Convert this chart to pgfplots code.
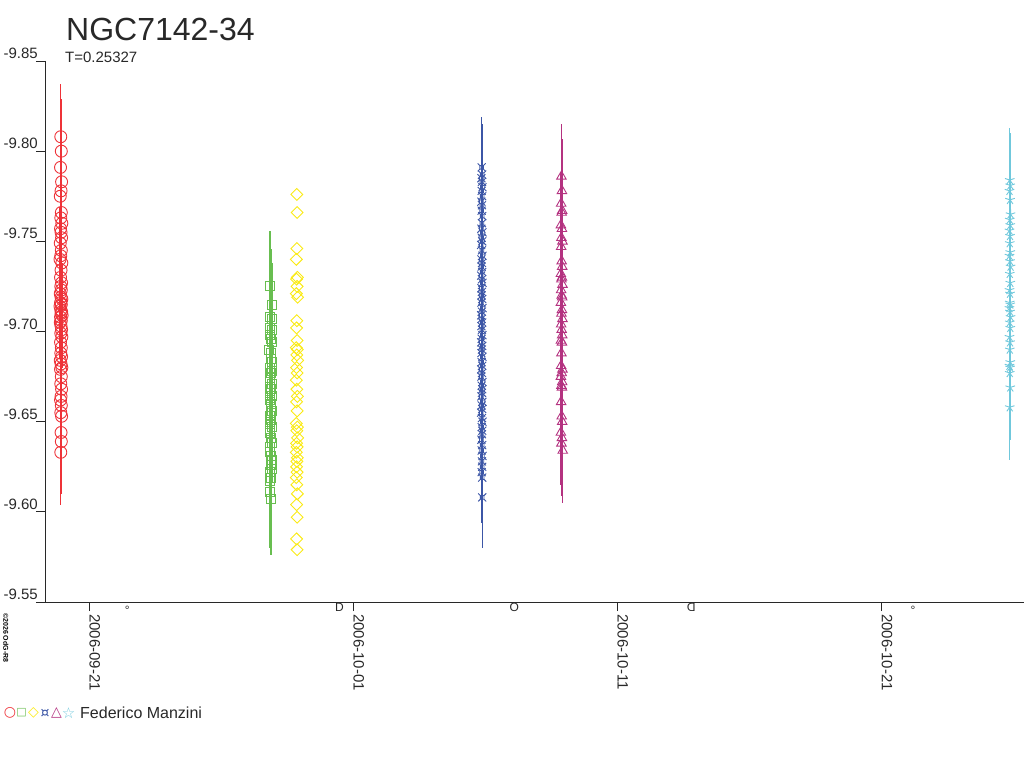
\documentclass[border=0pt]{standalone}
\usepackage{fontspec}
\setmainfont{Liberation Sans}
\newfontfamily\dejavu{DejaVu Sans}
\usepackage{graphicx}
\usepackage{pgfplots}
\pgfplotsset{compat=1.18}
\usetikzlibrary{plotmarks}
\definecolor{cred}{RGB}{238,50,56}
\definecolor{cgreen}{RGB}{104,190,80}
\definecolor{cyellow}{RGB}{250,234,20}
\definecolor{cblue}{RGB}{60,86,166}
\definecolor{cmag}{RGB}{180,50,128}
\definecolor{ccyan}{RGB}{112,200,220}
\definecolor{axgray}{RGB}{40,40,40}
\pgfdeclareplotmark{spokesq}{%
  \pgfpathrectangle{\pgfqpoint{-0.45\pgfplotmarksize}{-0.45\pgfplotmarksize}}{\pgfqpoint{0.9\pgfplotmarksize}{0.9\pgfplotmarksize}}%
  \pgfpathmoveto{\pgfqpoint{-\pgfplotmarksize}{-\pgfplotmarksize}}\pgfpathlineto{\pgfqpoint{-0.45\pgfplotmarksize}{-0.45\pgfplotmarksize}}%
  \pgfpathmoveto{\pgfqpoint{\pgfplotmarksize}{-\pgfplotmarksize}}\pgfpathlineto{\pgfqpoint{0.45\pgfplotmarksize}{-0.45\pgfplotmarksize}}%
  \pgfpathmoveto{\pgfqpoint{-\pgfplotmarksize}{\pgfplotmarksize}}\pgfpathlineto{\pgfqpoint{-0.45\pgfplotmarksize}{0.45\pgfplotmarksize}}%
  \pgfpathmoveto{\pgfqpoint{\pgfplotmarksize}{\pgfplotmarksize}}\pgfpathlineto{\pgfqpoint{0.45\pgfplotmarksize}{0.45\pgfplotmarksize}}%
  \pgfusepathqstroke}
\begin{document}
\begin{tikzpicture}
\path[use as bounding box] (0pt,0pt) rectangle (1024pt,768pt);
\begin{axis}[
  at={(45pt,166pt)}, anchor=south west,
  scale only axis, width=979pt, height=541pt,
  xmin=-1.678, xmax=35.40, ymin=-9.85, ymax=-9.55, y dir=reverse,
  axis lines=left, axis line style={-, draw=axgray, line width=0.9pt},
  tick align=outside, major tick length=9pt,
  tick style={draw=axgray, line width=0.9pt},
  xtick={0,10,20,30},
  xticklabels={2006-09-21,2006-10-01,2006-10-11,2006-10-21},
  ytick={-9.85,-9.80,-9.75,-9.70,-9.65,-9.60,-9.55},
  yticklabels={-9.85,-9.80,-9.75,-9.70,-9.65,-9.60,-9.55},
  ticklabel style={font=\fontsize{15}{18}\selectfont, text=axgray},
  yticklabel style={anchor=south east, inner sep=0pt, xshift=2pt, yshift=2pt},
  xticklabel style={rotate=-90, anchor=south west, inner sep=0pt, xshift=3pt},
  clip=false,
  every axis plot/.append style={only marks, mark options={line width=0.9pt}},
]
% red
\addplot[color=cred, mark=o, mark size=6,
  error bars/.cd, y dir=both, y fixed=0.029, error mark=none,
  error bar style={cred, line width=1.2pt}] table {
-1.08 -9.808
-1.06 -9.800
-1.09 -9.791
-1.05 -9.783
-1.07 -9.778
-1.10 -9.775
-1.06 -9.766
-1.08 -9.763
-1.04 -9.760
-1.09 -9.757
-1.07 -9.755
-1.05 -9.752
-1.10 -9.749
-1.06 -9.745
-1.08 -9.742
-1.11 -9.740
-1.04 -9.738
-1.07 -9.734
-1.09 -9.730
-1.05 -9.727
-1.08 -9.725
-1.06 -9.723
-1.10 -9.721
-1.07 -9.719
-1.04 -9.718
-1.09 -9.716
-1.06 -9.715
-1.11 -9.714
-1.08 -9.712
-1.05 -9.711
-1.07 -9.710
-1.03 -9.709
-1.09 -9.708
-1.06 -9.706
-1.10 -9.705
-1.07 -9.703
-1.05 -9.701
-1.08 -9.699
-1.04 -9.697
-1.09 -9.694
-1.06 -9.691
-1.08 -9.688
-1.05 -9.686
-1.10 -9.684
-1.07 -9.682
-1.04 -9.680
-1.09 -9.679
-1.06 -9.675
-1.08 -9.671
-1.05 -9.668
-1.07 -9.664
-1.09 -9.662
-1.06 -9.659
-1.08 -9.655
-1.05 -9.653
-1.07 -9.644
-1.06 -9.639
-1.08 -9.633
};
% green
\addplot[color=cgreen, mark=square, mark size=4.5,
  error bars/.cd, y dir=both, y fixed=0.031, error mark=none,
  error bar style={cgreen, line width=1.2pt}] table {
6.84 -9.725
6.91 -9.715
6.86 -9.708
6.93 -9.707
6.85 -9.702
6.90 -9.701
6.84 -9.698
6.87 -9.696
6.92 -9.694
6.82 -9.690
6.87 -9.688
6.88 -9.685
6.91 -9.683
6.83 -9.680
6.90 -9.678
6.89 -9.677
6.86 -9.674
6.93 -9.671
6.84 -9.669
6.88 -9.668
6.85 -9.666
6.90 -9.664
6.83 -9.662
6.87 -9.660
6.89 -9.658
6.92 -9.656
6.87 -9.655
6.84 -9.653
6.89 -9.651
6.86 -9.649
6.92 -9.647
6.86 -9.645
6.83 -9.644
6.88 -9.641
6.90 -9.638
6.86 -9.636
6.84 -9.633
6.88 -9.631
6.91 -9.629
6.87 -9.626
6.90 -9.624
6.83 -9.622
6.89 -9.619
6.86 -9.617
6.84 -9.611
6.88 -9.607
};
% yellow
\addplot[color=cyellow, mark=square, mark size=4.2, mark options={rotate=45, line width=0.9pt}] table {
7.86 -9.776
7.87 -9.766
7.86 -9.746
7.84 -9.740
7.88 -9.730
7.85 -9.729
7.87 -9.725
7.84 -9.721
7.89 -9.719
7.86 -9.706
7.85 -9.702
7.87 -9.695
7.84 -9.691
7.88 -9.690
7.86 -9.687
7.89 -9.684
7.85 -9.680
7.87 -9.677
7.84 -9.673
7.86 -9.668
7.88 -9.664
7.85 -9.661
7.87 -9.656
7.84 -9.649
7.88 -9.647
7.86 -9.645
7.89 -9.641
7.85 -9.638
7.87 -9.636
7.84 -9.633
7.88 -9.630
7.86 -9.628
7.85 -9.625
7.87 -9.622
7.84 -9.619
7.86 -9.615
7.88 -9.610
7.85 -9.604
7.87 -9.597
7.85 -9.585
7.87 -9.579
};
% blue
\addplot[color=cblue, mark=spokesq, mark size=4,
  error bars/.cd, y dir=both, y fixed=0.028, error mark=none,
  error bar style={cblue, line width=1.2pt}] table {
14.86 -9.791
14.88 -9.787
14.85 -9.785
14.87 -9.783
14.89 -9.780
14.86 -9.778
14.88 -9.775
14.85 -9.772
14.87 -9.770
14.86 -9.767
14.88 -9.764
14.87 -9.760
14.85 -9.757
14.89 -9.755
14.86 -9.752
14.88 -9.750
14.84 -9.748
14.87 -9.745
14.89 -9.742
14.85 -9.740
14.87 -9.738
14.86 -9.736
14.88 -9.733
14.84 -9.731
14.87 -9.729
14.89 -9.727
14.85 -9.724
14.87 -9.722
14.86 -9.720
14.88 -9.718
14.85 -9.716
14.89 -9.713
14.87 -9.711
14.84 -9.709
14.86 -9.707
14.88 -9.705
14.85 -9.703
14.87 -9.701
14.89 -9.698
14.86 -9.696
14.84 -9.694
14.88 -9.692
14.87 -9.690
14.85 -9.688
14.89 -9.686
14.86 -9.683
14.88 -9.681
14.84 -9.679
14.87 -9.677
14.85 -9.675
14.89 -9.672
14.86 -9.670
14.88 -9.668
14.87 -9.666
14.85 -9.664
14.89 -9.661
14.86 -9.659
14.88 -9.657
14.84 -9.655
14.87 -9.652
14.89 -9.650
14.86 -9.647
14.88 -9.645
14.87 -9.643
14.85 -9.640
14.88 -9.637
14.86 -9.634
14.89 -9.631
14.87 -9.628
14.88 -9.625
14.86 -9.622
14.88 -9.619
14.88 -9.608
};
% magenta
\addplot[color=cmag, mark=triangle, mark size=5.5,
  error bars/.cd, y dir=both, y fixed=0.029, error mark=none,
  error bar style={cmag, line width=1.2pt}] table {
17.88 -9.786
17.90 -9.778
17.87 -9.771
17.91 -9.767
17.89 -9.766
17.86 -9.759
17.90 -9.757
17.88 -9.752
17.92 -9.750
17.87 -9.747
17.89 -9.739
17.91 -9.736
17.86 -9.732
17.90 -9.730
17.88 -9.729
17.92 -9.726
17.87 -9.723
17.89 -9.720
17.91 -9.719
17.86 -9.716
17.90 -9.712
17.88 -9.710
17.92 -9.707
17.87 -9.704
17.89 -9.701
17.91 -9.698
17.86 -9.695
17.90 -9.694
17.88 -9.688
17.87 -9.681
17.92 -9.679
17.89 -9.677
17.86 -9.675
17.91 -9.672
17.88 -9.670
17.90 -9.669
17.87 -9.661
17.89 -9.653
17.91 -9.650
17.86 -9.644
17.90 -9.641
17.88 -9.638
17.93 -9.634
};
% cyan
\addplot[color=ccyan, mark=star, mark size=5,
  error bars/.cd, y dir=both, y fixed=0.029, error mark=none,
  error bar style={ccyan, line width=1.2pt}] table {
34.86 -9.784
34.88 -9.781
34.85 -9.778
34.87 -9.773
34.89 -9.765
34.86 -9.762
34.88 -9.759
34.85 -9.756
34.87 -9.753
34.86 -9.749
34.88 -9.744
34.85 -9.742
34.87 -9.739
34.89 -9.736
34.86 -9.732
34.88 -9.727
34.85 -9.723
34.87 -9.721
34.86 -9.716
34.88 -9.715
34.85 -9.713
34.87 -9.711
34.89 -9.708
34.86 -9.705
34.88 -9.702
34.85 -9.697
34.87 -9.694
34.86 -9.690
34.88 -9.683
34.85 -9.681
34.87 -9.680
34.86 -9.677
34.88 -9.669
34.86 -9.658
};
% moon phases
\node[font=\fontsize{12}{12}\selectfont, text=axgray] at (axis cs:1.44,-9.5455) {°};
\node[font=\fontsize{12}{12}\selectfont, text=axgray] at (axis cs:9.47,-9.5470) {D};
\node[font=\fontsize{12}{12}\selectfont, text=axgray] at (axis cs:16.1,-9.5470) {O};
\node[font=\fontsize{12}{12}\selectfont, text=axgray] at (axis cs:22.8,-9.5470) {\reflectbox{D}};
\node[font=\fontsize{12}{12}\selectfont, text=axgray] at (axis cs:31.2,-9.5455) {°};
\end{axis}
% titles
\node[anchor=base west, inner sep=0pt, font=\fontsize{32}{36}\selectfont, text=axgray] at (66pt,727pt) {NGC7142-34};
\node[anchor=base west, inner sep=0pt, font=\fontsize{15}{18}\selectfont, text=axgray] at (65pt,705pt) {T=0.25327};
% copyright
\node[rotate=-90, anchor=south west, inner sep=0pt, font=\bfseries\fontsize{7}{7}\selectfont, text=black] at (3pt,155pt) {©2026 OdG-R8};
% legend
\node[inner sep=0pt, font=\dejavu\fontsize{14}{14}\selectfont, text=cred] at (10pt,55pt) {○};
\node[inner sep=0pt, font=\dejavu\fontsize{11}{11}\selectfont, text=cgreen] at (21.5pt,55pt) {□};
\node[inner sep=0pt, font=\dejavu\fontsize{14}{14}\selectfont, text=cyellow] at (33.5pt,55pt) {◇};
\node[inner sep=0pt, font=\dejavu\fontsize{14}{14}\selectfont, text=cblue] at (45pt,55pt) {¤};
\node[inner sep=0pt, font=\dejavu\fontsize{14}{14}\selectfont, text=cmag] at (56.5pt,55pt) {△};
\node[inner sep=0pt, font=\dejavu\fontsize{15}{15}\selectfont, text=ccyan] at (68.5pt,55pt) {☆};
\node[anchor=base west, inner sep=0pt, font=\fontsize{16}{18}\selectfont, text=axgray] at (80pt,50pt) {Federico Manzini};
\end{tikzpicture}
\end{document}
